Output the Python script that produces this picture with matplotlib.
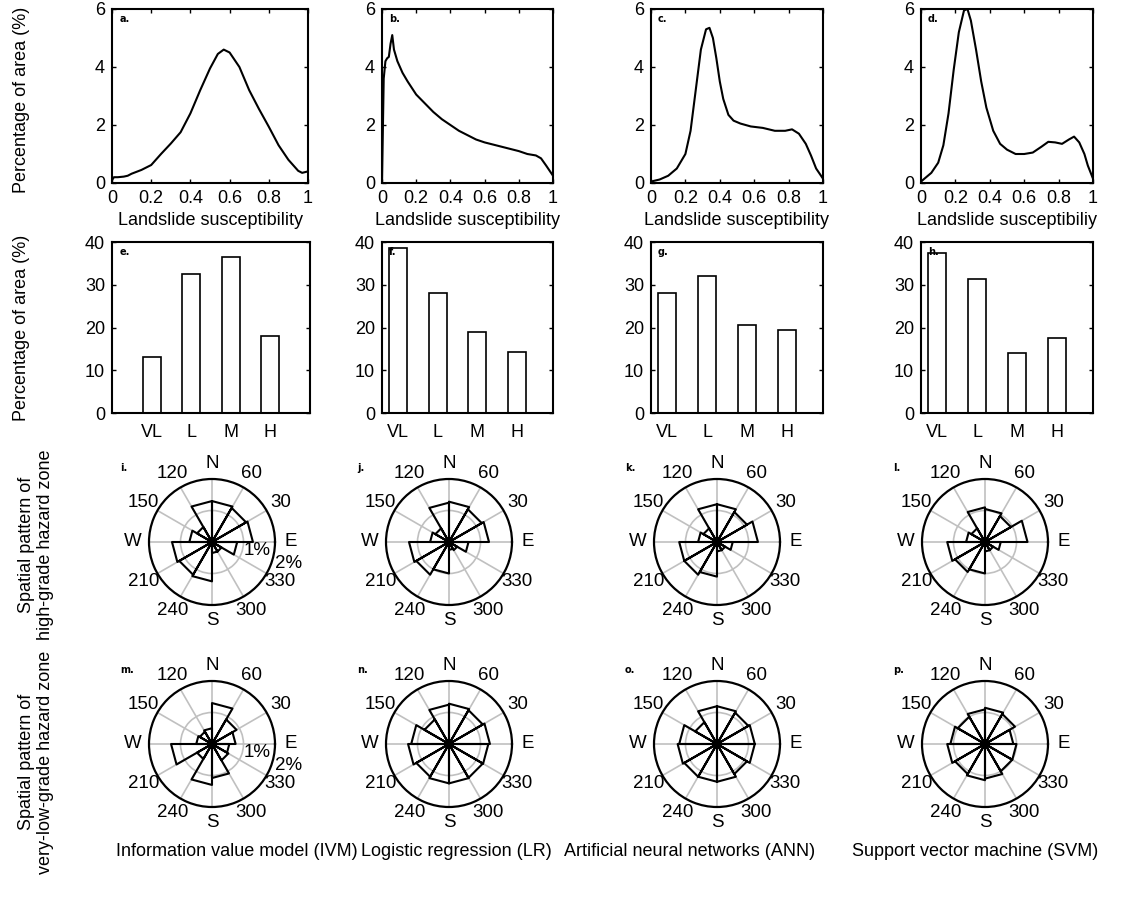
import numpy as np
import matplotlib.pyplot as plt

plt.rcParams['font.family'] = ['Liberation Sans', 'DejaVu Sans']

# ---- data ----
# landslide susceptibility density curves (a-d)
a_x = [0, 0.01, 0.03, 0.06, 0.08, 0.1, 0.15, 0.2, 0.25, 0.3, 0.35, 0.4, 0.45, 0.5, 0.54, 0.57, 0.6, 0.65,
       0.7, 0.75, 0.8, 0.85, 0.9, 0.95, 0.97, 1.0]
a_y = [0.1, 0.2, 0.2, 0.22, 0.25, 0.32, 0.45, 0.62, 1.0, 1.36, 1.75, 2.4, 3.2, 3.95, 4.45, 4.6, 4.5, 4.0,
       3.2, 2.55, 1.94, 1.3, 0.8, 0.42, 0.35, 0.4]
b_x = [0, 0.01, 0.02, 0.03, 0.04, 0.05, 0.06, 0.07, 0.09, 0.12, 0.15, 0.2, 0.25, 0.3, 0.35, 0.4, 0.45,
       0.5, 0.55, 0.6, 0.7, 0.8, 0.85, 0.9, 0.93, 0.96, 1.0]
b_y = [0, 3.6, 4.2, 4.3, 4.35, 4.8, 5.1, 4.6, 4.2, 3.8, 3.5, 3.05, 2.75, 2.45, 2.2, 2.0, 1.8,
       1.65, 1.5, 1.4, 1.25, 1.1, 1.0, 0.95, 0.85, 0.6, 0.25]
c_x = [0, 0.05, 0.1, 0.15, 0.2, 0.23, 0.26, 0.29, 0.32, 0.34, 0.36, 0.38, 0.4, 0.42, 0.45, 0.48, 0.52,
       0.58, 0.65, 0.72, 0.78, 0.82, 0.86, 0.9, 0.93, 0.96, 1.0]
c_y = [0.05, 0.12, 0.25, 0.5, 1.0, 1.8, 3.2, 4.6, 5.3, 5.35, 5.0, 4.3, 3.5, 2.9, 2.35, 2.15, 2.05,
       1.95, 1.9, 1.8, 1.8, 1.85, 1.7, 1.35, 0.95, 0.5, 0.15]
d_x = [0, 0.03, 0.06, 0.1, 0.13, 0.16, 0.19, 0.22, 0.25, 0.27, 0.29, 0.32, 0.35, 0.38, 0.42, 0.46,
       0.5, 0.55, 0.6, 0.65, 0.7, 0.74, 0.78, 0.82, 0.86, 0.89, 0.92, 0.95, 0.97, 1.0]
d_y = [0.05, 0.2, 0.35, 0.7, 1.3, 2.4, 3.9, 5.2, 5.95, 6.0, 5.6, 4.6, 3.5, 2.6, 1.8, 1.35,
       1.15, 1.0, 1.0, 1.05, 1.25, 1.42, 1.4, 1.35, 1.5, 1.6, 1.4, 1.0, 0.6, 0.15]

# percentage of area per susceptibility class (e-h)
classes = ['VL', 'L', 'M', 'H']
area_ivm = [13, 32.5, 36.5, 18]
area_lr = [38.5, 28, 19, 14.2]
area_ann = [28, 32, 20.5, 19.5]
area_svm = [37.5, 31.3, 14, 17.5]

# rose diagrams, 12 sectors of 30 deg starting at E, counter-clockwise (%)
rose_i = [1.3, 1.25, 1.3, 1.3, 0.55, 0.72, 1.27, 1.2, 1.25, 0.35, 0.35, 0.8]
rose_j = [1.27, 1.2, 1.28, 1.25, 0.5, 0.6, 1.27, 1.2, 1.0, 0.25, 0.3, 0.62]
rose_k = [1.3, 1.1, 1.2, 1.2, 0.5, 0.6, 1.2, 1.2, 1.1, 0.3, 0.3, 0.5]
rose_l = [1.35, 0.95, 1.05, 1.1, 0.5, 0.6, 1.2, 1.1, 1.0, 0.3, 0.3, 0.5]
rose_m = [0.75, 0.9, 1.3, 0.5, 0.45, 0.5, 1.3, 0.55, 1.3, 1.08, 0.6, 0.55]
rose_n = [1.3, 1.24, 1.28, 1.25, 0.9, 1.2, 1.3, 1.2, 1.25, 1.25, 1.24, 1.25]
rose_o = [1.2, 1.15, 1.2, 1.2, 0.8, 1.2, 1.25, 1.2, 1.2, 1.2, 1.1, 1.2]
rose_p = [0.9, 1.1, 1.15, 1.1, 1.0, 1.1, 1.2, 1.1, 1.15, 1.1, 1.0, 1.0]
rose_labels = ['E', '30', '60', 'N', '120', '150', 'W', '210', '240', 'S', '300', '330']

models = ['Information value model (IVM)', 'Logistic regression (LR)',
          'Artificial neural networks (ANN)', 'Support vector machine (SVM)']

W, H = 1124, 898
FS = 13
fig = plt.figure(figsize=(W / 100, H / 100), dpi=100)


def add_box(x0, y0, x1, y1, **kw):
    return fig.add_axes([x0 / W, 1 - y1 / H, (x1 - x0) / W, (y1 - y0) / H], **kw)


def style(ax):
    for s in ax.spines.values():
        s.set_linewidth(1.5)
    ax.tick_params(direction='in', top=True, right=True, labelsize=FS, length=3, width=1, pad=5)


def letter(ax, txt):
    ax.text(0.04, 0.97, txt, transform=ax.transAxes, ha='left', va='top',
            fontsize=7, fontweight='bold', family='DejaVu Sans')


# row 1: density curves
curves = [(a_x, a_y, 'a.', 'Landslide susceptibility', 112, 308),
          (b_x, b_y, 'b.', 'Landslide susceptibility', 382, 553),
          (c_x, c_y, 'c.', 'Landslide susceptibility', 651, 823),
          (d_x, d_y, 'd.', 'Landslide susceptibiliy', 921, 1093)]
for xs, ys, lab, xl, x0, x1 in curves:
    ax = add_box(x0, 9, x1, 183)
    ax.plot(xs, ys, 'k-', lw=1.5)
    ax.set_xlim(0, 1)
    ax.set_ylim(0, 6)
    ax.set_xticks([0, 0.2, 0.4, 0.6, 0.8, 1])
    ax.set_xticklabels(['0', '0.2', '0.4', '0.6', '0.8', '1'])
    ax.set_yticks([0, 2, 4, 6])
    ax.set_xlabel(xl, fontsize=FS, labelpad=4)
    style(ax)
    letter(ax, lab)

# row 2: class bars
bars = [(area_ivm, 'e.', 112, 310, 0, 5), (area_lr, 'f.', 382, 553, 0.6, 4.9),
        (area_ann, 'g.', 651, 823, 0.6, 4.9), (area_svm, 'h.', 921, 1093, 0.6, 4.9)]
for vals, lab, x0, x1, lo, hi in bars:
    ax = add_box(x0, 242, x1, 413)
    ax.bar(np.arange(1, 5), vals, width=0.45, facecolor='white', edgecolor='k', lw=1.2)
    ax.set_xlim(lo, hi)
    ax.set_ylim(0, 40)
    ax.set_xticks(np.arange(1, 5))
    ax.set_xticklabels(classes)
    ax.set_yticks([0, 10, 20, 30, 40])
    style(ax)
    ax.tick_params(axis='x', length=0, pad=8)
    letter(ax, lab)

# rows 3-4: roses
edges = np.deg2rad(np.arange(0, 361, 30))
centers_x = [212, 449, 717, 985]
roses = [(rose_i, 'i.', 0, 542), (rose_j, 'j.', 1, 542), (rose_k, 'k.', 2, 542), (rose_l, 'l.', 3, 542),
         (rose_m, 'm.', 0, 744), (rose_n, 'n.', 1, 744), (rose_o, 'o.', 2, 744), (rose_p, 'p.', 3, 744)]
R = 63
for vals, lab, col, cy in roses:
    cx = centers_x[col]
    ax = add_box(cx - R, cy - R, cx + R, cy + R, projection='polar')
    th, rr = [], []
    for k, v in enumerate(vals):
        th += [0, edges[k], edges[k + 1], 0]
        rr += [0, v, v, 0]
    ax.plot(th, rr, 'k-', lw=1.5)
    ax.set_ylim(0, 2)
    ax.set_thetagrids(np.arange(0, 360, 30), rose_labels)
    ax.set_rgrids([1], [''])
    ax.grid(color='#c0c0c0', lw=1.2)
    ax.spines['polar'].set_linewidth(1.6)
    ax.tick_params(axis='x', pad=1, labelsize=FS + 0.5)
    ax.set_facecolor('none')
    if lab in ('i.', 'm.'):
        ax.text(np.deg2rad(-14), 1.05, '1%', fontsize=FS + 0.5, ha='left', va='center')
        ax.text(np.deg2rad(-19), 2.12, '2%', fontsize=FS + 0.5, ha='left', va='center')
    fig.text((cx - 92) / W, 1 - (cy - 74) / H, lab, fontsize=7, fontweight='bold',
             family='DejaVu Sans', ha='left', va='center')

# model names
for name, xc in zip(models, [237, 456, 690, 975]):
    fig.text(xc / W, 1 - 852 / H, name, fontsize=FS, ha='center', va='center')

# left labels
fig.text(22 / W, 1 - 100 / H, 'Percentage of area (%)', rotation=90, fontsize=FS, ha='center', va='center')
fig.text(22 / W, 1 - 328 / H, 'Percentage of area (%)', rotation=90, fontsize=FS, ha='center', va='center')
fig.text(36 / W, 1 - 545 / H, 'Spatial pattern of\nhigh-grade hazard zone', rotation=90, fontsize=FS,
         ha='center', va='center', multialignment='center')
fig.text(36 / W, 1 - 762 / H, 'Spatial pattern of\nvery-low-grade hazard zone', rotation=90, fontsize=FS,
         ha='center', va='center', multialignment='center')

fig.savefig('out.png', dpi=100)
